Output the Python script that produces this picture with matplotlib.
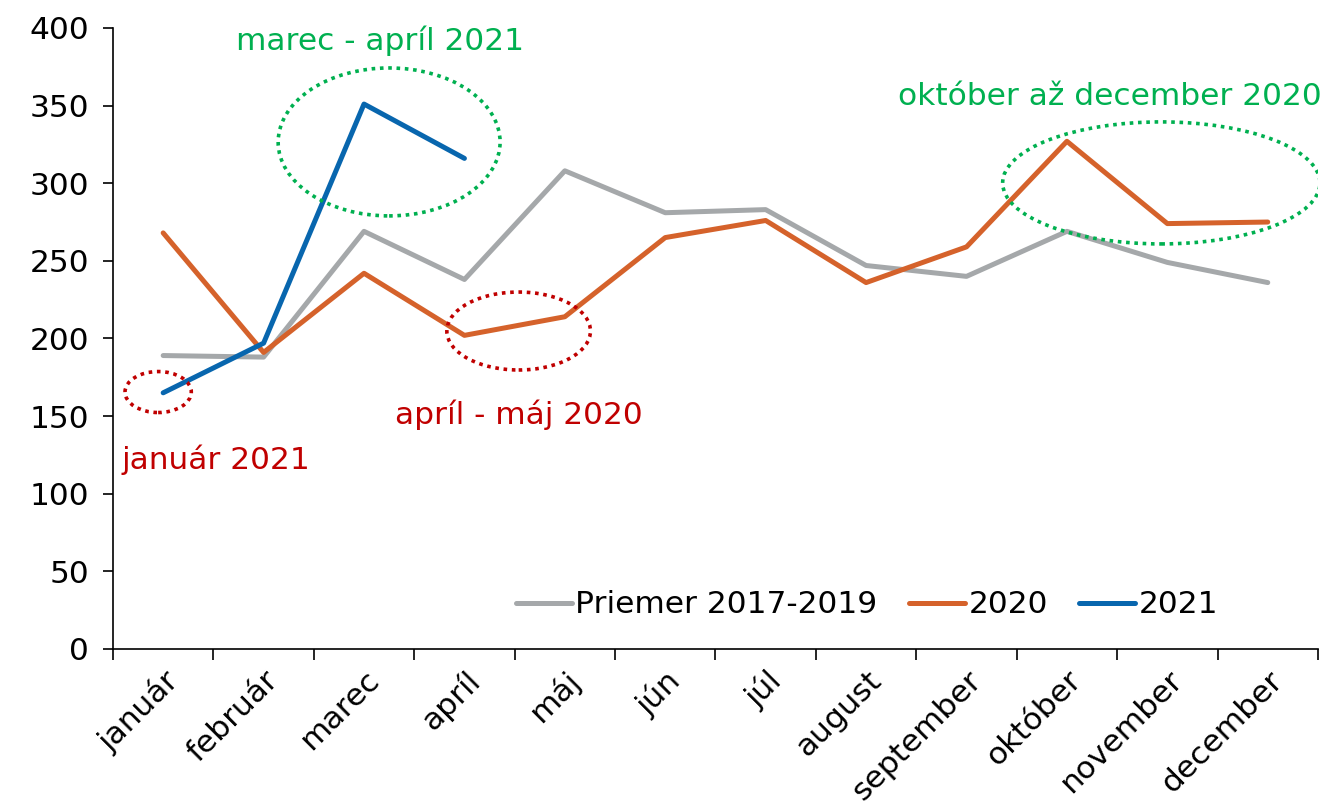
import numpy as np
import matplotlib.pyplot as plt
from matplotlib.patches import Ellipse

months = ['január', 'február', 'marec', 'apríl', 'máj', 'jún', 'júl',
          'august', 'september', 'október', 'november', 'december']
avg_2017_2019 = [189, 188, 269, 238, 308, 281, 283, 247, 240, 269, 249, 236]
y2020 = [268, 191, 242, 202, 214, 265, 276, 236, 259, 327, 274, 275]
y2021 = [165, 197, 351, 316]

GRAY = '#A5A8AA'
ORANGE = '#D5622B'
BLUE = '#0866AE'
RED = '#C00000'
GREEN = '#00B050'

plt.rcParams['font.family'] = ['DejaVu Sans']
fig = plt.figure(figsize=(13.29, 8.11), dpi=100)
ax = fig.add_axes([0.085, 0.1998, 0.9067, 0.7657])

x = np.arange(len(months))
ax.plot(x, avg_2017_2019, color=GRAY, lw=3.6, label='Priemer 2017-2019',
        solid_capstyle='round', solid_joinstyle='round')
ax.plot(x, y2020, color=ORANGE, lw=3.6, label='2020',
        solid_capstyle='round', solid_joinstyle='round')
ax.plot(x[:len(y2021)], y2021, color=BLUE, lw=3.6, label='2021',
        solid_capstyle='round', solid_joinstyle='round')

# highlight ellipses (center x, center y, width, height, colour)
ellipses = [
    (2.25, 326.6, 2.21, 95.3, GREEN),
    (-0.05, 165.5, 0.66, 26.4, RED),
    (3.54, 204.8, 1.43, 50.2, RED),
    (9.94, 300.2, 3.16, 78.6, GREEN),
]
for cx, cy, w, h, c in ellipses:
    ax.add_patch(Ellipse((cx, cy), w, h, fill=False, edgecolor=c,
                         linestyle=(0, (1, 1.3)), lw=2.6, zorder=5))

fs = 22.5
ax.text(2.16, 392, 'marec - apríl 2021', color=GREEN, fontsize=fs,
        ha='center', va='center')
ax.text(0.52, 122, 'január 2021', color=RED, fontsize=fs,
        ha='center', va='center')
ax.text(3.54, 151, 'apríl - máj 2020', color=RED, fontsize=fs,
        ha='center', va='center')
ax.text(9.43, 355.6, 'október až december 2020', color=GREEN, fontsize=fs,
        ha='center', va='center')

ax.set_xlim(-0.5, 11.5)
ax.set_ylim(0, 400)
ax.set_yticks(np.arange(0, 401, 50))
ax.tick_params(axis='y', labelsize=fs, direction='out', length=7, width=1.2,
               pad=10)

ax.set_xticks(np.arange(-0.5, 12, 1))
ax.set_xticklabels([])
ax.tick_params(axis='x', which='major', direction='out', length=8, width=1.2)
ax.set_xticks(x, minor=True)
ax.set_xticklabels(months, minor=True, rotation=45, ha='right',
                   rotation_mode='anchor', fontsize=fs)
ax.tick_params(axis='x', which='minor', length=0, pad=12)

for s in ['top', 'right']:
    ax.spines[s].set_visible(False)
for s in ['left', 'bottom']:
    ax.spines[s].set_linewidth(1.2)

ax.legend(loc='center right', bbox_to_anchor=(0.93, 0.0708), ncol=3,
          frameon=False, fontsize=fs, handlelength=1.8, handletextpad=0.1,
          columnspacing=1.0, borderpad=0)

fig.savefig('out.png', dpi=100)
